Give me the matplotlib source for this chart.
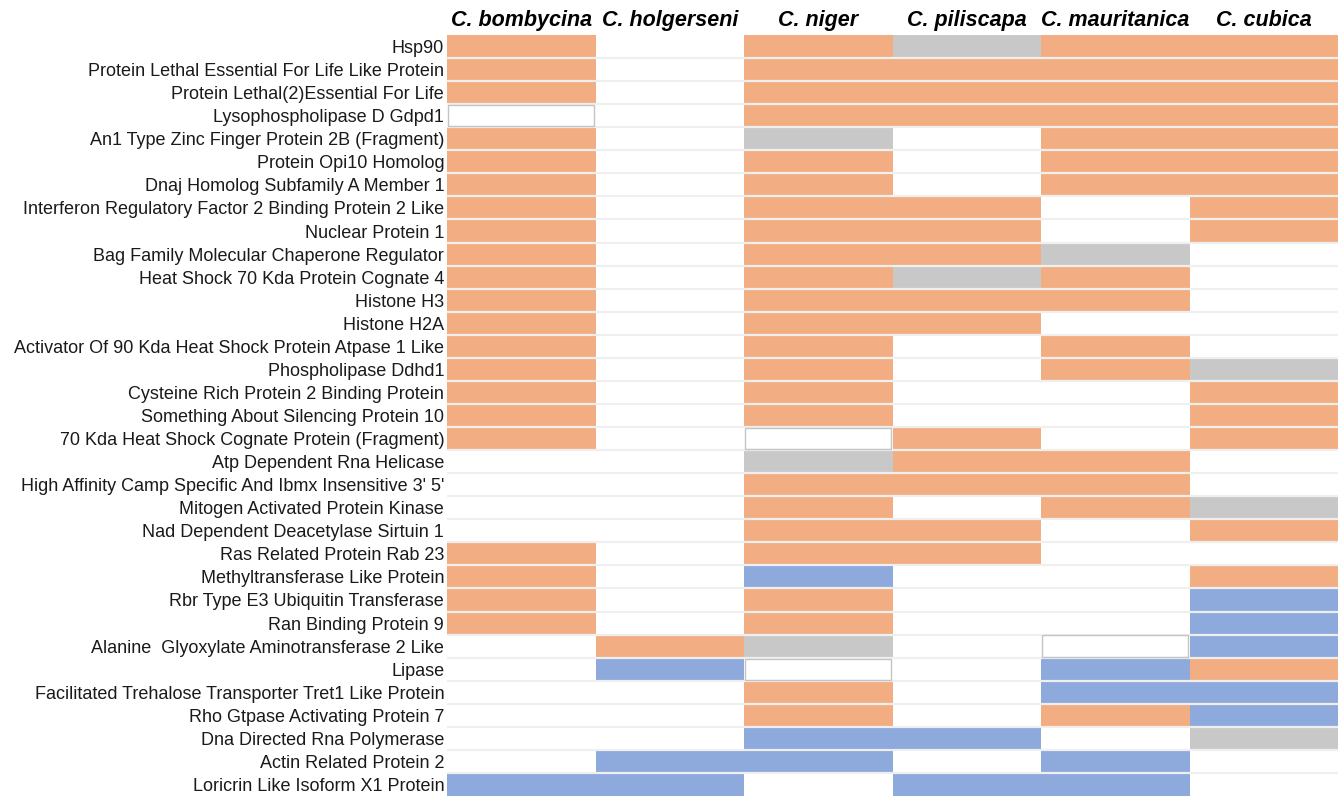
import numpy as np
import matplotlib.pyplot as plt
from matplotlib.colors import ListedColormap, BoundaryNorm
from matplotlib.patches import Rectangle

# === DATA ===
species = ["C. bombycina", "C. holgerseni", "C. niger",
           "C. piliscapa", "C. mauritanica", "C. cubica"]

proteins = [
    "Hsp90",
    "Protein Lethal Essential For Life Like Protein",
    "Protein Lethal(2)Essential For Life",
    "Lysophospholipase D Gdpd1",
    "An1 Type Zinc Finger Protein 2B (Fragment)",
    "Protein Opi10 Homolog",
    "Dnaj Homolog Subfamily A Member 1",
    "Interferon Regulatory Factor 2 Binding Protein 2 Like",
    "Nuclear Protein 1",
    "Bag Family Molecular Chaperone Regulator",
    "Heat Shock 70 Kda Protein Cognate 4",
    "Histone H3",
    "Histone H2A",
    "Activator Of 90 Kda Heat Shock Protein Atpase 1 Like",
    "Phospholipase Ddhd1",
    "Cysteine Rich Protein 2 Binding Protein",
    "Something About Silencing Protein 10",
    "70 Kda Heat Shock Cognate Protein (Fragment)",
    "Atp Dependent Rna Helicase",
    "High Affinity Camp Specific And Ibmx Insensitive 3' 5'",
    "Mitogen Activated Protein Kinase",
    "Nad Dependent Deacetylase Sirtuin 1",
    "Ras Related Protein Rab 23",
    "Methyltransferase Like Protein",
    "Rbr Type E3 Ubiquitin Transferase",
    "Ran Binding Protein 9",
    "Alanine  Glyoxylate Aminotransferase 2 Like",
    "Lipase",
    "Facilitated Trehalose Transporter Tret1 Like Protein",
    "Rho Gtpase Activating Protein 7",
    "Dna Directed Rna Polymerase",
    "Actin Related Protein 2",
    "Loricrin Like Isoform X1 Protein",
]

# 0 = absent, 1 = orange, 2 = grey, 3 = blue
status = [
    [1, 0, 1, 2, 1, 1],
    [1, 0, 1, 1, 1, 1],
    [1, 0, 1, 1, 1, 1],
    [0, 0, 1, 1, 1, 1],
    [1, 0, 2, 0, 1, 1],
    [1, 0, 1, 0, 1, 1],
    [1, 0, 1, 0, 1, 1],
    [1, 0, 1, 1, 0, 1],
    [1, 0, 1, 1, 0, 1],
    [1, 0, 1, 1, 2, 0],
    [1, 0, 1, 2, 1, 0],
    [1, 0, 1, 1, 1, 0],
    [1, 0, 1, 1, 0, 0],
    [1, 0, 1, 0, 1, 0],
    [1, 0, 1, 0, 1, 2],
    [1, 0, 1, 0, 0, 1],
    [1, 0, 1, 0, 0, 1],
    [1, 0, 0, 1, 0, 1],
    [0, 0, 2, 1, 1, 0],
    [0, 0, 1, 1, 1, 0],
    [0, 0, 1, 0, 1, 2],
    [0, 0, 1, 1, 0, 1],
    [1, 0, 1, 1, 0, 0],
    [1, 0, 3, 0, 0, 1],
    [1, 0, 1, 0, 0, 3],
    [1, 0, 1, 0, 0, 3],
    [0, 1, 2, 0, 0, 3],
    [0, 3, 0, 0, 3, 1],
    [0, 0, 1, 0, 3, 3],
    [0, 0, 1, 0, 1, 3],
    [0, 0, 3, 3, 0, 2],
    [0, 3, 3, 0, 3, 0],
    [3, 3, 0, 3, 3, 0],
]

# white cells that carry a faint outline in the original (row, col)
outlined = [(3, 0), (17, 2), (27, 2), (26, 4)]

# === Plot ===
M = np.array(status)
n_rows, n_cols = M.shape

cmap = ListedColormap(["#FFFFFF", "#F2AE82", "#C8C8C8", "#8EA9DB"])
norm = BoundaryNorm([-0.5, 0.5, 1.5, 2.5, 3.5], cmap.N)

fig = plt.figure(figsize=(13.38, 7.96), dpi=100)
ax = fig.add_axes([447 / 1338, 0.0, 1 - 447 / 1338, 1 - 35 / 796])

ax.pcolormesh(np.arange(n_cols + 1), np.arange(n_rows + 1), M,
              cmap=cmap, norm=norm, antialiased=False)
ax.set_xlim(0, n_cols)
ax.set_ylim(n_rows, 0)

# faint row separators
for y in range(1, n_rows):
    ax.axhline(y, color="#EFEFEF", lw=1.6, zorder=3)

for r, c in outlined:
    ax.add_patch(Rectangle((c + 0.01, r + 0.04), 0.98, 0.92, fill=False,
                           edgecolor="#C4C4C4", lw=1.0, zorder=4))

ax.set_yticks(np.arange(n_rows) + 0.5)
ax.set_yticklabels(proteins, fontsize=13, family="Liberation Sans",
                   color="#1A1A1A")
ax.set_xticks(np.arange(n_cols) + 0.5)
ax.set_xticklabels(species, fontsize=15.5, fontweight="bold", style="italic",
                   family="Liberation Sans")
ax.xaxis.tick_top()
ax.tick_params(axis="both", length=0, pad=2)
ax.tick_params(axis="x", pad=3)
for s in ax.spines.values():
    s.set_visible(False)

plt.savefig("out.png", dpi=100)
